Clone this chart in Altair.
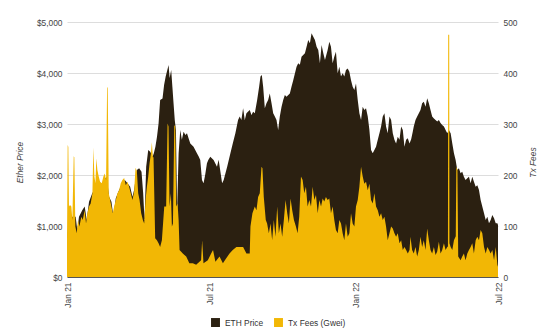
import altair as alt
import pandas as pd

START = "2021-01-01"

eth_days = [0,1.3,3.8,6.8,11,13,15.2,19.5,22.4,25,27.9,32,34.3,38.5,42.7,47,50.4,53.3,56.3,58.8,61.8,66,70.2,73.2,76.6,80,82.9,85,88.5,91.4,94.4,96.5,98.2,100.3,102.9,105.4,108.4,110,112,114,116,118,121,123,125,128.7,130,132,133.5,135,136.5,138,139.5,141.4,143.5,145.5,147.7,150,152,154,156.2,160.3,164.6,167,168.8,171,173,175,177.3,179,181.5,185.7,190,192.1,196.5,198.5,202.9,207,210,213.3,216.7,218.8,220.9,223.1,225.2,227.3,231.5,233.7,235.8,237.9,240.9,243.4,245.1,246.8,248.5,250.6,252.7,254.8,256.9,259.1,261.2,263.3,265.4,267.5,269.6,271.8,273.9,276,278.1,282.3,284.4,286.6,290.8,292.9,295,297.1,301.4,303.5,305.6,307.7,309.8,312,314.1,316.2,318.3,320.4,322.5,324.7,326.8,330.2,332.3,334.4,336.5,338.6,340.7,342.9,345,347.1,349.2,351.3,353.4,355.6,357.7,359.8,361.9,364,366.1,368.3,370.4,372.5,374.6,376.7,378.8,381,383.1,385.2,387.3,389.4,391.5,393.7,395.8,397.9,400,402.1,404.2,406.3,408.5,410.6,412.7,414.8,416.9,419,421.2,423.3,425.4,427.5,429.6,431.7,433.9,436,438,439.3,441.5,443.6,445.7,447.8,449.9,452,454.2,456.3,458.4,460.5,462.6,464.8,466.9,469,471.1,473.2,475.3,477.5,479.6,481.7,483.8,486,488.1,490.2,492.3,494.4,496.5,498.6,500.7,502.8,504.9,507.1,509.2,511.3,513.4,515.5,517.7,519.8,521.9,524,526.1,528.3,530.4,532.5,534.6,536.7,538.8,541,543.1,545.2,546]
eth_price = [725,987,1118,1183,1183,920,1183,1314,1380,1118,1477,1640,1706,1740,1804,1900,1967,1575,1477,1183,1543,1706,1836,1900,1836,1771,1575,1706,2098,2130,2065,1640,1118,2163,2490,2457,2360,2425,2555,2750,3010,3470,3500,3765,3930,4157,3900,4060,3730,3400,3080,2880,1314,2425,2880,2690,2850,2785,2820,2720,2620,2555,2425,2360,2295,1900,1836,2000,2230,2295,2360,2295,2163,2300,1836,1900,2163,2425,2620,2820,3080,3145,3080,3307,3080,3210,3275,3176,3240,3210,3470,3730,3930,3960,3730,3307,3405,3470,3600,3405,3210,3145,3080,2880,3145,3340,3470,3570,3536,3600,3730,3860,4125,4190,4160,4320,4385,4516,4647,4582,4778,4712,4647,4516,4450,4190,4549,4385,4255,4450,4614,4516,4190,4320,4418,3993,4125,3930,3993,3930,4060,4090,4026,3860,3730,3667,3795,3470,3210,3080,3340,3275,3307,3145,2880,2490,2425,2490,2555,2690,2820,2950,3145,3210,2950,2820,3145,3080,2820,2690,2620,2750,2690,2950,2880,2555,2690,2720,2620,2700,2850,2950,3080,3145,3210,3275,3405,3438,3340,3503,3405,3275,3145,3110,3080,3050,3080,3020,2980,2950,2880,2820,2880,2820,2620,2425,2295,2098,2130,2033,2065,1967,1900,1935,1967,1836,1967,1870,1771,1800,1706,1510,1380,1250,1118,1183,1052,1118,1216,1150,1052,1052,1020]

fee_days = [0,0.85,1.7,2.5,3.8,5.5,6.8,8.5,9.3,10.6,12.3,14,15.7,18.2,19.9,22.4,24.1,25.8,27.9,30,32.2,33.4,34.7,36,37.2,38.5,40.2,41.9,44,46.1,47.8,49.5,50.8,51.6,52.9,54.6,56.3,58,59.7,61.8,63.9,66,68.1,70.2,72.4,74.5,76.6,78.7,80.8,82.9,85,86.8,88.5,90.2,91.9,94,96.1,97.8,99.5,101.2,102.9,104.6,106.3,107.5,108.8,109.6,111.7,113.9,116,118,120.2,123.2,125.6,127.4,128.6,129.9,131.6,132.9,134.2,135.9,137.1,138.4,140.1,141.4,142.6,146.7,151,155,159.4,163.6,169.9,171.2,172.9,178.4,182.6,185,188,193.2,197.5,201.7,205.9,210,214.6,218.8,223.1,227.3,231.5,232.4,234.9,237.9,240,242.1,244.2,246.4,247.6,249.3,251.8,253.5,255.7,257.8,259.9,262,264.1,266.3,268.4,270.5,272.6,274.7,276.9,279,281.1,283.2,285.3,287.5,290,292.1,294.2,296.4,298.5,300.6,302.7,304.8,307,309.1,311.2,313.3,315.4,317.6,319.7,321.8,323.9,325.9,328,330.2,332.3,334.4,336.5,338.6,340.7,342.9,345,347.1,349.2,351.3,353.4,355.6,357.7,359.8,361.9,364,366.1,368.3,370.4,372.5,374.6,376.7,378.8,381,383.1,385.2,387.3,389.4,391.5,393.7,395.8,397.9,400,402.1,404.2,406.3,408.5,410.6,412.7,414.8,416.9,419,421.2,423.3,425.4,427.5,429.6,431.7,433.9,435.1,437.2,439.3,441.5,443.6,445.7,447.8,449.9,452,454.2,456.3,458.4,460.5,462.6,464.8,466.9,469,471.1,473.2,475.3,477.5,479.6,481.7,482.6,482.9,484.2,484.5,486,488.1,490.2,492.5,493.2,494.6,495.6,498.6,500.7,502.8,504.9,507.1,509.2,511.3,513.4,515.5,517.7,519.8,521.9,524,526.1,528.3,530.4,532.5,534.6,536.7,538.8,541,543.1,545.2,546]
fee_gwei = [72,259,255,138,141,138,112,237,235,99,86,112,99,118,112,131,105,125,138,144,164,254,197,184,233,210,197,187,184,197,203,190,373,370,164,151,138,125,138,151,164,170,184,190,194,180,187,177,164,151,167,214,208,164,151,125,112,105,151,177,197,223,242,264,235,235,76,72,66,59,72,138,138,301,295,138,164,99,105,298,295,138,144,112,53,46,40,27,27,24,33,72,27,33,46,53,30,40,27,37,46,53,59,59,59,46,46,99,125,138,131,157,164,216,213,157,112,105,86,105,72,112,79,138,86,105,79,112,151,125,105,154,131,112,99,86,118,197,190,164,177,138,151,138,177,151,161,125,151,138,154,148,157,151,154,125,138,112,92,86,112,105,86,72,105,79,86,125,105,99,138,151,177,216,197,183,187,170,183,151,144,164,138,131,118,125,112,118,99,72,86,99,95,86,79,86,66,72,53,59,53,46,53,79,53,46,59,40,53,79,59,72,53,95,72,53,46,59,43,50,69,46,53,66,53,59,60,475,475,66,59,53,72,80,216,210,40,33,40,46,33,46,53,59,66,46,72,79,72,92,86,59,46,59,53,46,53,33,59,24,20]

series_names = ["ETH Price", "Tx Fees (Gwei)"]
series_colors = ["#2b2011", "#f2b705"]
tick_dates = [(2021, 1), (2021, 7), (2022, 1), (2022, 7)]
price_ticks = [0, 1000, 2000, 3000, 4000, 5000]
fee_ticks = [0, 100, 200, 300, 400, 500]

start = pd.Timestamp(START)
def to_dates(days):
    return [(start + pd.to_timedelta(d, unit="D")).strftime("%Y-%m-%dT%H:%M:%S") for d in days]

eth_df = pd.DataFrame({"date": to_dates(eth_days), "value": eth_price, "series": series_names[0]})
fee_df = pd.DataFrame({"date": to_dates(fee_days), "value": fee_gwei, "series": series_names[1]})

FONT = "Liberation Sans"
FS = 8.4
LAB = "#444444"

x_enc = alt.X(
    "date:T",
    scale=alt.Scale(domain=[alt.DateTime(year=2021, month=1, date=1), alt.DateTime(year=2022, month=7, date=1)]),
    axis=alt.Axis(
        values=[alt.DateTime(year=y, month=m, date=1) for y, m in tick_dates],
        format="%b %y", labelAngle=270, labelAlign="right", labelBaseline="middle",
        labelPadding=5, ticks=False, grid=False, domainColor="#555555", domainWidth=1,
        labelFont=FONT, labelFontSize=FS, labelColor=LAB, title=None,
    ),
)

color_enc = alt.Color(
    "series:N",
    scale=alt.Scale(domain=series_names, range=series_colors),
    legend=alt.Legend(
        title=None, orient="none", legendX=144, legendY=296, direction="horizontal",
        symbolType="square", symbolSize=80, symbolStrokeWidth=0, symbolOpacity=1,
        labelFont=FONT, labelFontSize=FS, labelColor="#333333", labelOffset=5,
        columnPadding=10, padding=0,
    ),
)

eth = alt.Chart(eth_df).mark_area(interpolate="linear", opacity=1).encode(
    x=x_enc,
    y=alt.Y("value:Q", scale=alt.Scale(domain=[0, 5000], nice=False),
            axis=alt.Axis(orient="left", values=price_ticks, format="$,.0f", title="Ether Price",
                          grid=True, gridColor="#dddddd", ticks=False, domain=False,
                          labelPadding=5, labelFont=FONT, labelFontSize=FS, labelColor=LAB,
                          titleFont=FONT, titleFontSize=FS, titleFontStyle="italic",
                          titleFontWeight="normal", titleColor=LAB, titleAngle=270,
                          titleX=-43, titleY=140, titleAlign="center", titleBaseline="bottom")),
    color=color_enc,
)

fee = alt.Chart(fee_df).mark_area(interpolate="linear", opacity=1).encode(
    x=x_enc,
    y=alt.Y("value:Q", scale=alt.Scale(domain=[0, 500], nice=False),
            axis=alt.Axis(orient="right", values=fee_ticks, title="Tx Fees",
                          grid=False, ticks=False, domain=False,
                          labelPadding=5, labelFont=FONT, labelFontSize=FS, labelColor=LAB,
                          titleFont=FONT, titleFontSize=FS, titleFontStyle="italic",
                          titleFontWeight="normal", titleColor=LAB, titleAngle=270,
                          titleX=39, titleY=140, titleAlign="center", titleBaseline="bottom")),
    color=color_enc,
)

chart = alt.layer(eth, fee).resolve_scale(y="independent").properties(
    width=431, height=255,
    padding={"left": 67, "top": 22, "right": 56, "bottom": 59},
    autosize=alt.AutoSizeParams(type="none"),
    background="white",
).configure_view(stroke=None)

chart.save("out.html", embed_options={"renderer": "svg", "actions": False})
